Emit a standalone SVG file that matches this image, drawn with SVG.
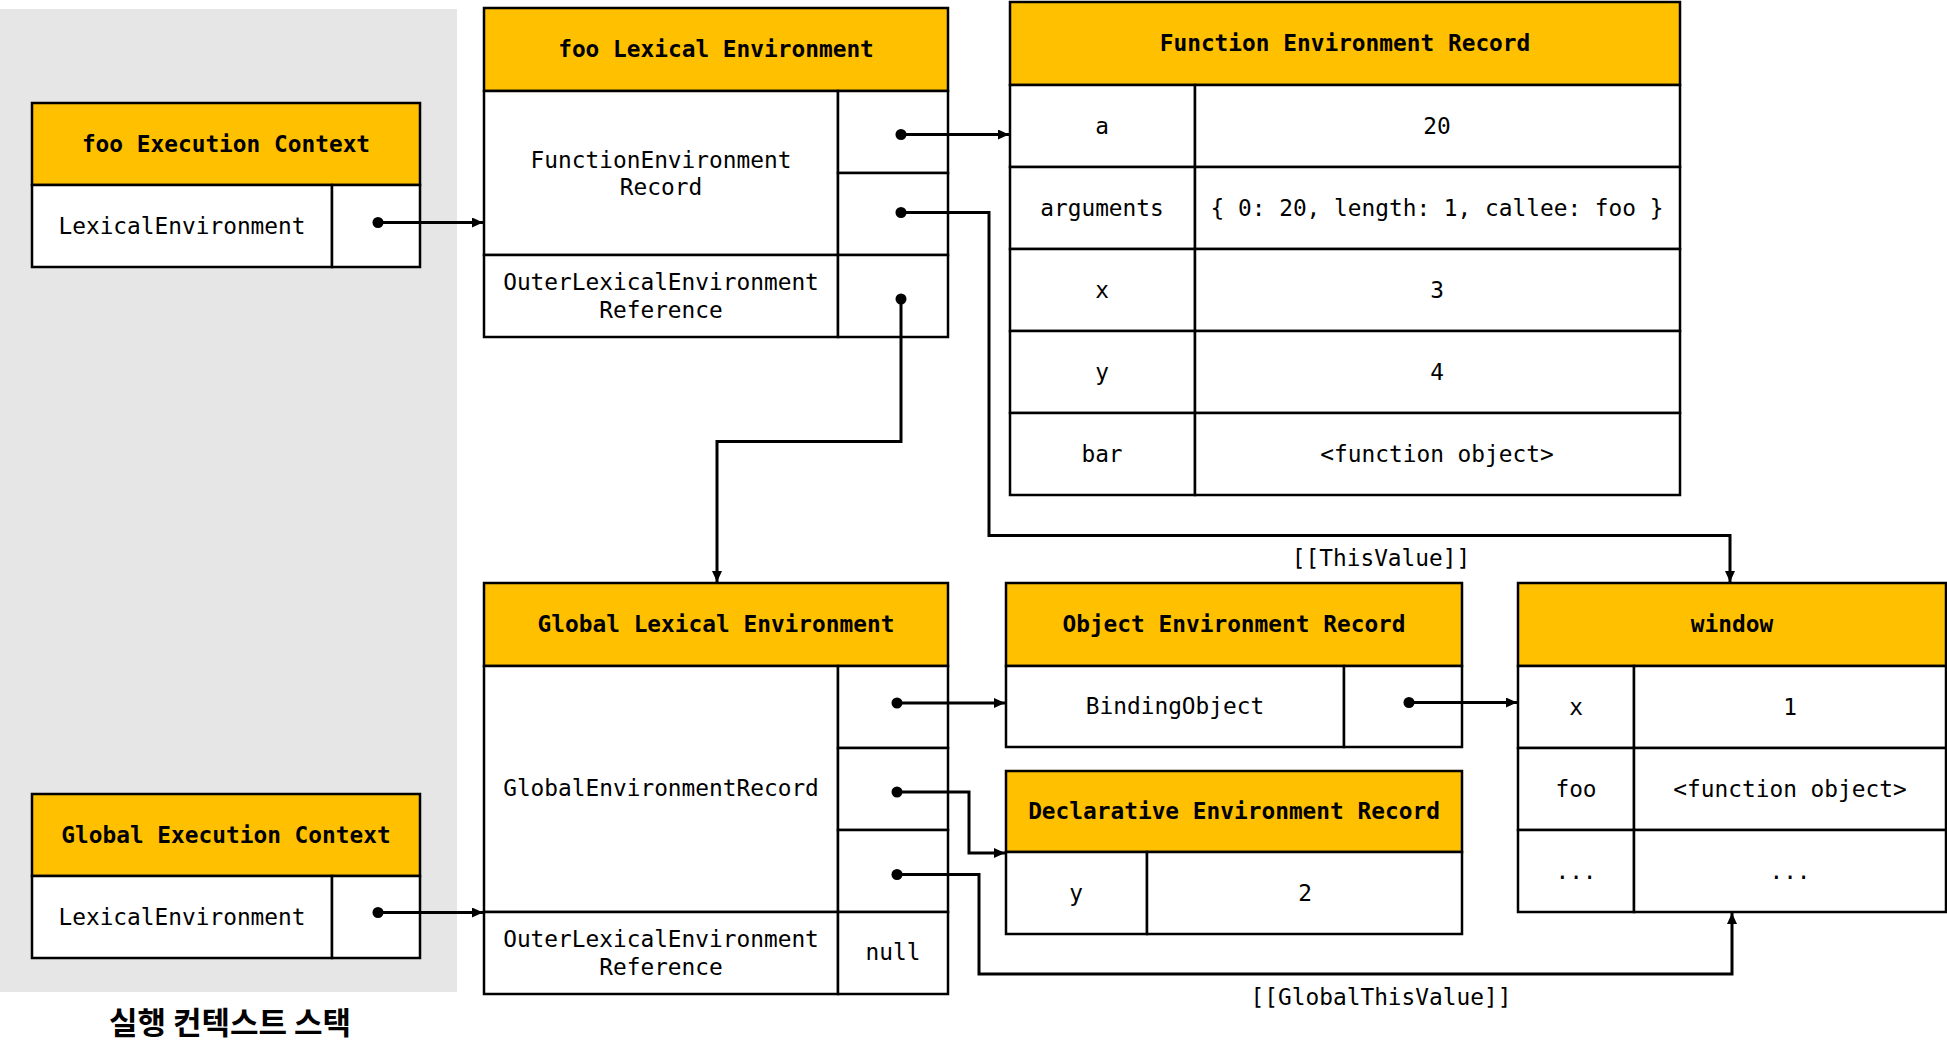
<svg xmlns="http://www.w3.org/2000/svg" width="1947" height="1054" viewBox="0 0 1947 1054">
<style>
.hdr{fill:#FFC000;stroke:#000;stroke-width:2.5}
.cell{fill:#fff;stroke:#000;stroke-width:2.5}
.ht{font-family:"DejaVu Sans Mono","Liberation Mono",monospace;font-weight:bold;font-size:22.8px;text-anchor:middle;dominant-baseline:central;fill:#000}
.t{font-family:"DejaVu Sans Mono","Liberation Mono",monospace;font-size:22.8px;text-anchor:middle;dominant-baseline:central;fill:#000}
.ln{fill:none;stroke:#000;stroke-width:3}
.dot{fill:#000}
</style>
<defs>
<marker id="ah" viewBox="0 0 11 10" refX="11" refY="5" markerWidth="11" markerHeight="10" markerUnits="userSpaceOnUse" orient="auto">
<path d="M0,0 L11,5 L0,10 z" fill="#000"/>
</marker>
</defs>
<rect x="0" y="9" width="457" height="983" fill="#e6e6e6"/>
<text x="230" y="1020" font-family="'Noto Sans CJK KR',sans-serif" font-weight="bold" font-size="31" text-anchor="middle" dominant-baseline="central">실행 컨텍스트 스택</text>

<g id="foo-ec">
<rect class="hdr" x="32" y="103" width="388" height="82"/>
<rect class="cell" x="32" y="185" width="300" height="82"/>
<rect class="cell" x="332" y="185" width="88" height="82"/>
<text class="ht" x="226" y="144">foo Execution Context</text>
<text class="t" x="182" y="226">LexicalEnvironment</text>
</g>

<g id="global-ec">
<rect class="hdr" x="32" y="794" width="388" height="82"/>
<rect class="cell" x="32" y="876" width="300" height="82"/>
<rect class="cell" x="332" y="876" width="88" height="82"/>
<text class="ht" x="226" y="835">Global Execution Context</text>
<text class="t" x="182" y="917">LexicalEnvironment</text>
</g>

<g id="foo-le">
<rect class="hdr" x="484" y="8" width="464" height="83"/>
<rect class="cell" x="484" y="91" width="354" height="164"/>
<rect class="cell" x="838" y="91" width="110" height="82"/>
<rect class="cell" x="838" y="173" width="110" height="82"/>
<rect class="cell" x="484" y="255" width="354" height="82"/>
<rect class="cell" x="838" y="255" width="110" height="82"/>
<text class="ht" x="716" y="49">foo Lexical Environment</text>
<text class="t" x="661" y="160">FunctionEnvironment</text>
<text class="t" x="661" y="187">Record</text>
<text class="t" x="661" y="282">OuterLexicalEnvironment</text>
<text class="t" x="661" y="310">Reference</text>
</g>

<g id="function-er">
<rect class="hdr" x="1010" y="2" width="670" height="83"/>
<rect class="cell" x="1010" y="85" width="185" height="82"/>
<rect class="cell" x="1195" y="85" width="485" height="82"/>
<rect class="cell" x="1010" y="167" width="185" height="82"/>
<rect class="cell" x="1195" y="167" width="485" height="82"/>
<rect class="cell" x="1010" y="249" width="185" height="82"/>
<rect class="cell" x="1195" y="249" width="485" height="82"/>
<rect class="cell" x="1010" y="331" width="185" height="82"/>
<rect class="cell" x="1195" y="331" width="485" height="82"/>
<rect class="cell" x="1010" y="413" width="185" height="82"/>
<rect class="cell" x="1195" y="413" width="485" height="82"/>
<text class="ht" x="1345" y="43">Function Environment Record</text>
<text class="t" x="1102" y="126">a</text>
<text class="t" x="1437" y="126">20</text>
<text class="t" x="1102" y="208">arguments</text>
<text class="t" x="1437" y="208">{ 0: 20, length: 1, callee: foo }</text>
<text class="t" x="1102" y="290">x</text>
<text class="t" x="1437" y="290">3</text>
<text class="t" x="1102" y="372">y</text>
<text class="t" x="1437" y="372">4</text>
<text class="t" x="1102" y="454">bar</text>
<text class="t" x="1437" y="454">&lt;function object&gt;</text>
</g>

<g id="global-le">
<rect class="hdr" x="484" y="583" width="464" height="83"/>
<rect class="cell" x="484" y="666" width="354" height="246"/>
<rect class="cell" x="838" y="666" width="110" height="82"/>
<rect class="cell" x="838" y="748" width="110" height="82"/>
<rect class="cell" x="838" y="830" width="110" height="82"/>
<rect class="cell" x="484" y="912" width="354" height="82"/>
<rect class="cell" x="838" y="912" width="110" height="82"/>
<text class="ht" x="716" y="624">Global Lexical Environment</text>
<text class="t" x="661" y="788">GlobalEnvironmentRecord</text>
<text class="t" x="661" y="939">OuterLexicalEnvironment</text>
<text class="t" x="661" y="967">Reference</text>
<text class="t" x="893" y="952">null</text>
</g>

<g id="object-er">
<rect class="hdr" x="1006" y="583" width="456" height="83"/>
<rect class="cell" x="1006" y="666" width="338" height="81"/>
<rect class="cell" x="1344" y="666" width="118" height="81"/>
<text class="ht" x="1234" y="624">Object Environment Record</text>
<text class="t" x="1175" y="706">BindingObject</text>
</g>

<g id="declarative-er">
<rect class="hdr" x="1006" y="771" width="456" height="81"/>
<rect class="cell" x="1006" y="852" width="141" height="82"/>
<rect class="cell" x="1147" y="852" width="315" height="82"/>
<text class="ht" x="1234" y="811">Declarative Environment Record</text>
<text class="t" x="1076" y="893">y</text>
<text class="t" x="1305" y="893">2</text>
</g>

<g id="window">
<rect class="hdr" x="1518" y="583" width="428" height="83"/>
<rect class="cell" x="1518" y="666" width="116" height="82"/>
<rect class="cell" x="1634" y="666" width="312" height="82"/>
<rect class="cell" x="1518" y="748" width="116" height="82"/>
<rect class="cell" x="1634" y="748" width="312" height="82"/>
<rect class="cell" x="1518" y="830" width="116" height="82"/>
<rect class="cell" x="1634" y="830" width="312" height="82"/>
<text class="ht" x="1732" y="624">window</text>
<text class="t" x="1576" y="707">x</text>
<text class="t" x="1790" y="707">1</text>
<text class="t" x="1576" y="789">foo</text>
<text class="t" x="1790" y="789">&lt;function object&gt;</text>
<text class="t" x="1576" y="871">...</text>
<text class="t" x="1790" y="871">...</text>
</g>

<g id="connectors">
<path class="ln" d="M378,222.5 H483" marker-end="url(#ah)"/>
<path class="ln" d="M378,912.5 H483" marker-end="url(#ah)"/>
<path class="ln" d="M901,134.5 H1009" marker-end="url(#ah)"/>
<path class="ln" d="M901,212.5 H989 V535.5 H1730 V582" marker-end="url(#ah)"/>
<path class="ln" d="M901,299 V441.5 H717 V582" marker-end="url(#ah)"/>
<path class="ln" d="M897,703 H1005" marker-end="url(#ah)"/>
<path class="ln" d="M897,792 H969 V853 H1005" marker-end="url(#ah)"/>
<path class="ln" d="M897,874.5 H979 V974 H1732 V913" marker-end="url(#ah)"/>
<path class="ln" d="M1409,702.5 H1517" marker-end="url(#ah)"/>
<circle class="dot" cx="378" cy="222.5" r="5.5"/>
<circle class="dot" cx="378" cy="912.5" r="5.5"/>
<circle class="dot" cx="901" cy="134.5" r="5.5"/>
<circle class="dot" cx="901" cy="212.5" r="5.5"/>
<circle class="dot" cx="901" cy="299" r="5.5"/>
<circle class="dot" cx="897" cy="703" r="5.5"/>
<circle class="dot" cx="897" cy="792" r="5.5"/>
<circle class="dot" cx="897" cy="874.5" r="5.5"/>
<circle class="dot" cx="1409" cy="702.5" r="5.5"/>
<text class="t" x="1381" y="558">[[ThisValue]]</text>
<text class="t" x="1381" y="997">[[GlobalThisValue]]</text>
</g>
</svg>
